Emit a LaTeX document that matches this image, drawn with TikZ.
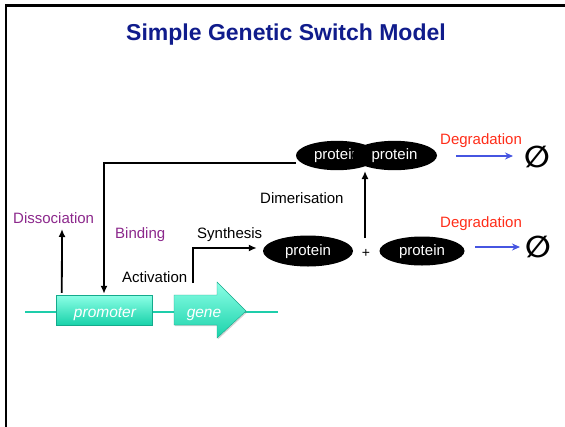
\documentclass[tikz,border=0pt]{standalone}
\usepackage{fontspec}
\setmainfont{Liberation Sans}
\newfontfamily\symfont{DejaVu Sans}
\usetikzlibrary{arrows.meta,shadows,shapes.geometric}
\definecolor{titleblue}{RGB}{16,28,140}
\definecolor{labpurple}{RGB}{140,40,140}
\definecolor{degred}{RGB}{255,45,25}
\definecolor{degblue}{RGB}{70,85,225}
\definecolor{dnateal}{RGB}{30,205,170}
\definecolor{boxtop}{RGB}{140,255,230}
\definecolor{boxbot}{RGB}{25,210,170}
\definecolor{boxedge}{RGB}{20,170,140}
\begin{document}
\begin{tikzpicture}[x=1pt,y=-1pt,
  lab/.style={font=\fontsize{15}{18}\selectfont, inner sep=0pt, anchor=base west},
  purp/.style={lab, text=labpurple},
  deg/.style={lab, text=degred},
  prot/.style={ellipse, fill=black, text=white, inner sep=0pt,
               font=\fontsize{15}{18}\selectfont, text height=11pt, text depth=3pt},
  flow/.style={line width=1.8pt, -{Latex[length=8pt,width=7pt]}},
  degarrow/.style={degblue, line width=1.3pt, -{Stealth[length=8pt,width=7pt]}},
  elem/.style={draw=boxedge, line width=0.4pt, top color=boxtop, bottom color=boxbot,
               drop shadow={opacity=0.35, shadow xshift=1.2pt, shadow yshift=-1.2pt}},
  elemtext/.style={text=white, font=\itshape\fontsize{15.5}{18}\selectfont, inner sep=0pt,
                   anchor=base},
  nullset/.style={font=\symfont\bfseries\fontsize{30}{34}\selectfont, inner sep=0pt},
]
\useasboundingbox (0,0) rectangle (565,426);
\fill[white] (0,0) rectangle (565,426);

% frame
\draw[line width=2.4pt] (6.2,440) -- (6.2,5.4) -- (580,5.4);

% title
\node[font=\bfseries\fontsize{23}{26}\selectfont, text=titleblue, anchor=base, inner sep=0pt]
  (title) at (286,40) {Simple Genetic Switch Model};

% DNA strand with promoter and gene
\draw[dnateal, line width=2.6pt] (25,312) -- (278,312);
\node[elem, rectangle, minimum width=96pt, minimum height=30pt, inner sep=0pt]
  (prom) at (104,310) {};
\node[elemtext] (promtext) at (105,317.5) {promoter};
\path[elem] (174,295) -- (217,295) -- (217,282) -- (246,311) -- (217,338) -- (217,325)
  -- (174,325) -- cycle;
\node[elemtext] (gene) at (204,317.5) {gene};

% proteins
\node[prot, minimum width=90pt, minimum height=31pt] (p1) at (308,251) {protein};
\node[prot, minimum width=85pt, minimum height=29pt] (p2) at (422,251) {protein};
\node[font=\fontsize{14}{16}\selectfont, inner sep=0pt] (plus) at (366,253) {+};
\node[prot, minimum width=82pt, minimum height=29.4pt] (dimerL) at (337,155.5) {protein};
\node[prot, minimum width=85pt, minimum height=29.4pt] (dimerR) at (394.5,155.5) {protein};

% empty sets
\node[nullset] (null1) at (537,157) {∅};
\node[nullset] (null2) at (538,247) {∅};

% labels
\node[purp] (diss) at (13,223) {Dissociation};
\node[purp] (bind) at (115,238) {Binding};
\node[lab] (synth) at (197,238) {Synthesis};
\node[lab] (act) at (122,282) {Activation};
\node[lab] (dimer) at (260,203) {Dimerisation};
\node[deg] (deg1) at (440,144) {Degradation};
\node[deg] (deg2) at (440,227) {Degradation};

% connectors
\coordinate (dissEnd) at (62,229);
\draw[flow] ([xshift=6pt,yshift=2pt]prom.north west) -- (dissEnd);
\draw[flow] ([yshift=-7.5pt]dimerL.west) -| ([yshift=1pt]prom.north);
\coordinate (actStart) at (193,283);
\draw[flow] (actStart) |- ([xshift=-6pt,yshift=3pt]p1.west);
\coordinate (dimStart) at (365,238);
\coordinate (dimEnd) at (365,171);
\draw[flow] (dimStart) -- (dimEnd);
\coordinate (deg1Start) at (456,156);
\coordinate (deg1End) at (513,156);
\coordinate (deg2Start) at (475,247);
\coordinate (deg2End) at (520,247);
\draw[degarrow] (deg1Start) -- (deg1End);
\draw[degarrow] (deg2Start) -- (deg2End);
\end{tikzpicture}
\end{document}
